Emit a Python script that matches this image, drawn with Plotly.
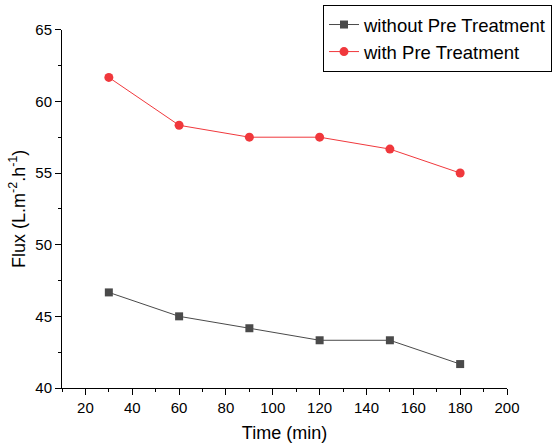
import plotly.graph_objects as go

time_min = [30, 60, 90, 120, 150, 180]
flux_without = [46.67, 45.0, 44.17, 43.33, 43.33, 41.67]
flux_with = [61.67, 58.33, 57.5, 57.5, 56.67, 55.0]
names = ["without Pre Treatment", "with Pre Treatment"]

fig = go.Figure()
fig.add_trace(go.Scatter(x=time_min, y=flux_without, mode="lines+markers", name=names[0],
                         line=dict(color="#4a4a4a", width=1),
                         marker=dict(symbol="square", size=8, color="#4a4a4a")))
fig.add_trace(go.Scatter(x=time_min, y=flux_with, mode="lines+markers", name=names[1],
                         line=dict(color="#f0383c", width=1),
                         marker=dict(symbol="circle", size=9, color="#f0383c")))

font = "Liberation Sans, Arial, sans-serif"
fig.update_layout(
    width=554, height=448,
    margin=dict(l=62, r=2, t=5, b=60, autoexpand=False),
    paper_bgcolor="white", plot_bgcolor="white",
    font=dict(family=font, size=15, color="black"),
    showlegend=True,
    legend=dict(x=1, y=1, xanchor="right", yanchor="top",
                bordercolor="black", borderwidth=1, bgcolor="white",
                font=dict(size=18.5), tracegroupgap=0),
    xaxis=dict(domain=[0, 445/490], range=[10, 200], tickvals=list(range(20, 201, 20)),
               showline=True, linecolor="black", linewidth=1, mirror=False,
               ticks="outside", ticklen=6, tickcolor="black", showgrid=False, zeroline=False,
               minor=dict(ticks="outside", ticklen=3, dtick=10, tick0=0, tickcolor="black", showgrid=False),
               title=dict(text="Time (min)", font=dict(size=18), standoff=11)),
    yaxis=dict(domain=[0, 358.3/383], range=[40, 65], tickvals=[40, 45, 50, 55, 60, 65],
               showline=True, linecolor="black", linewidth=1, mirror=False,
               ticks="outside", ticklen=6, tickcolor="black", showgrid=False, zeroline=False,
               minor=dict(ticks="outside", ticklen=3, dtick=2.5, tick0=40, tickcolor="black", showgrid=False),
               title=dict(text="Flux (L.m<sup>-2</sup>.h<sup>-1</sup>)", font=dict(size=18), standoff=5)),
)
fig.write_html("out.html")
